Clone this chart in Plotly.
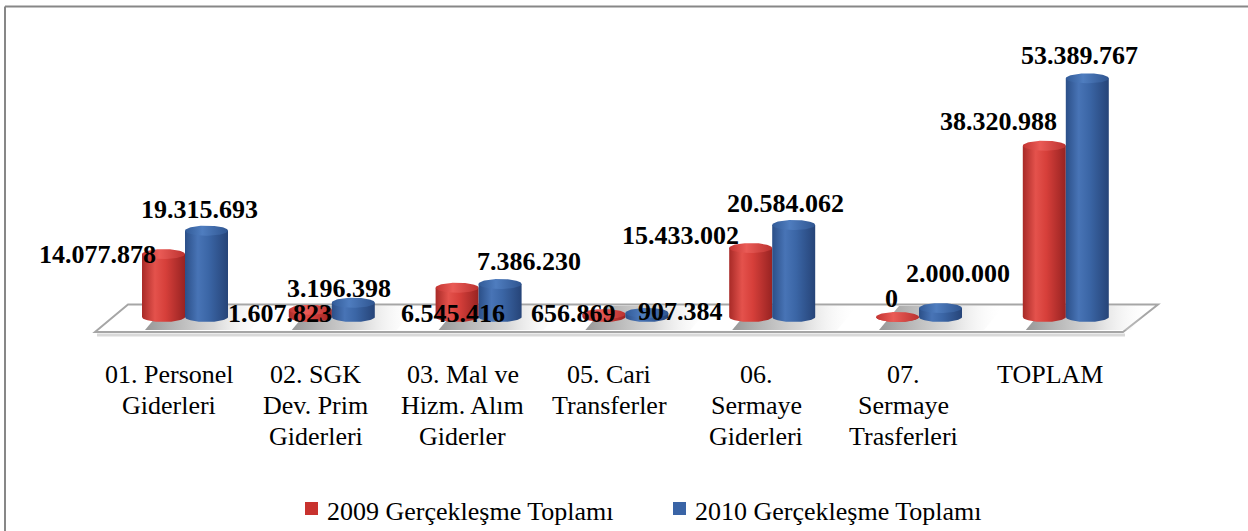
import numpy as np
import plotly.graph_objects as go

# ---- data -------------------------------------------------------------
categories = [
    "01. Personel<br>Giderleri",
    "02. SGK<br>Dev. Prim<br>Giderleri",
    "03. Mal ve<br>Hizm. Alım<br>Giderler",
    "05. Cari<br>Transferler",
    "06.<br>Sermaye<br>Giderleri",
    "07.<br>Sermaye<br>Trasferleri",
    "TOPLAM",
]
series_names = ["2009 Gerçekleşme Toplamı", "2010 Gerçekleşme Toplamı"]
values_2009 = [14077878, 1607823, 6545416, 656869, 15433002, 0, 38320988]
values_2010 = [19315693, 3196398, 7386230, 907384, 20584062, 2000000, 53389767]

# label nudges (pixels) relative to the top centre of each cylinder
label_shift_2009 = [(-66, 0), (-30, -4), (-4, -26), (-30, 1), (-70, 13), (-6, 19), (-46, 24)]
label_shift_2010 = [(-7, 21), (-14, 14), (29, 22), (34, 1), (-8, 21), (17, 35), (-8, 23)]

SERIF = "Times New Roman, Liberation Serif, Tinos, serif"

# ---- geometry ---------------------------------------------------------
W, H = 1248, 531
X0, DX = 185.0, 146.8          # pixel of first category centre, px per category
BASE, SCALE = 317.0, 4.47e-6   # pixel row of the floor line, px per unit value

x_range = [-X0 / DX, (W - X0) / DX]
y_range = [-(H - BASE) / SCALE, BASE / SCALE]

half_w = 21.5 / DX       # cylinder radius in category units
pair_off = 21.5 / DX     # offset of each cylinder from the category centre
ry = 5.0 / SCALE         # vertical half-axis of the ellipses in value units


def to_x(px):
    return (px - X0) / DX


def to_y(py):
    return (BASE - py) / SCALE


def fmt(v):
    return f"{v:,}".replace(",", ".")


RED_BODY = [[0, "#a82a27"], [0.3, "#e4524c"], [0.55, "#d63f3a"], [1, "#982322"]]
RED_CAP = [[0, "#c43532"], [0.4, "#ea5b56"], [1, "#bb3230"]]
BLUE_BODY = [[0, "#2b4f88"], [0.3, "#4874b6"], [0.55, "#3b66a6"], [1, "#264478"]]
BLUE_CAP = [[0, "#325b98"], [0.4, "#4f7dbf"], [1, "#2f5590"]]

fig = go.Figure()

# soft shadows on the floor behind every pair
for i in range(len(categories)):
    c = X0 + DX * i
    xs = [c - 20, c + 85, c + 65, c - 40, c - 20]
    ys = [306, 306, 330, 330, 306]
    fig.add_trace(go.Scatter(
        x=[to_x(v) for v in xs], y=[to_y(v) for v in ys],
        mode="lines", line=dict(width=0), fill="toself",
        fillgradient=dict(type="horizontal",
                          colorscale=[[0, "rgba(140,140,140,0.9)"],
                                      [0.55, "rgba(195,195,195,0.65)"],
                                      [1, "rgba(255,255,255,0)"]]),
        hoverinfo="skip", showlegend=False))


def cylinder(xc, v, body, cap):
    t = np.linspace(0, np.pi, 48)
    bx = list(xc - half_w * np.cos(t)) + [xc + half_w, xc - half_w, xc - half_w]
    by = list(-ry * np.sin(t)) + [v, v, 0]
    fig.add_trace(go.Scatter(
        x=bx, y=by, mode="lines", line=dict(width=0), fill="toself",
        fillgradient=dict(type="horizontal", colorscale=body),
        hoverinfo="skip", showlegend=False))
    t2 = np.linspace(0, 2 * np.pi, 96)
    fig.add_trace(go.Scatter(
        x=xc + half_w * np.cos(t2), y=v + ry * np.sin(t2),
        mode="lines", line=dict(width=0), fill="toself",
        fillgradient=dict(type="horizontal", colorscale=cap),
        hoverinfo="skip", showlegend=False))


annotations = []
for i, (a, b) in enumerate(zip(values_2009, values_2010)):
    xr_, xb_ = i - pair_off, i + pair_off
    cylinder(xr_, a, RED_BODY, RED_CAP)
    cylinder(xb_, b, BLUE_BODY, BLUE_CAP)
    for xc, v, (dx, dy) in ((xr_, a, label_shift_2009[i]), (xb_, b, label_shift_2010[i])):
        annotations.append(dict(
            x=xc, y=v, xref="x", yref="y", text=fmt(v), showarrow=False,
            xshift=dx, yshift=dy, xanchor="center", yanchor="middle",
            font=dict(family=SERIF, size=26, color="black", weight="bold")))

# category labels, one line at a time
for i, cat in enumerate(categories):
    for k, line in enumerate(cat.split("<br>")):
        annotations.append(dict(
            x=i, y=(1 - (374 + 31 * k) / H), xref="x", yref="paper", text=line,
            showarrow=False, xshift=-16, xanchor="center", yanchor="middle",
            font=dict(family=SERIF, size=26, color="black")))

# legend
legend_items = [(305, "#c8322e", series_names[0]), (673, "#3a64a6", series_names[1])]
shapes = []
for lx, col, name in legend_items:
    shapes.append(dict(type="rect", xref="paper", yref="paper",
                       x0=lx / W, x1=(lx + 13) / W, y0=1 - 515 / H, y1=1 - 502 / H,
                       fillcolor=col, line=dict(width=0)))
    annotations.append(dict(x=(lx + 20) / W, y=1 - 511 / H, xref="paper", yref="paper",
                            text=name, showarrow=False, xanchor="left", yanchor="middle",
                            font=dict(family=SERIF, size=26, color="black")))

# floor plate
floor = [(95, 332), (128, 304.5), (1158, 304.5), (1123, 332)]
path = "M " + " L ".join(f"{x / W},{1 - y / H}" for x, y in floor) + " Z"
shapes.insert(0, dict(type="path", path=path, xref="paper", yref="paper",
                      fillcolor="white", line=dict(color="#a6a6a6", width=2), layer="below"))
shapes.insert(0, dict(type="path", xref="paper", yref="paper", layer="below",
                      path=f"M {97 / W},{1 - 335 / H} L {1125 / W},{1 - 335 / H}",
                      line=dict(color="#d9d9d9", width=3)))

# outer frame
shapes.append(dict(type="line", xref="paper", yref="paper", x0=5 / W, x1=1.0,
                   y0=1 - 6.5 / H, y1=1 - 6.5 / H, line=dict(color="#878787", width=2)))
shapes.append(dict(type="line", xref="paper", yref="paper", x0=5 / W, x1=5 / W,
                   y0=1 - 6.5 / H, y1=0, line=dict(color="#878787", width=2)))

fig.update_layout(
    width=W, height=H,
    margin=dict(l=0, r=0, t=0, b=0),
    paper_bgcolor="white", plot_bgcolor="white",
    xaxis=dict(range=x_range, visible=False, fixedrange=True),
    yaxis=dict(range=y_range, visible=False, fixedrange=True),
    showlegend=False,
    shapes=shapes,
    annotations=annotations,
)

fig.write_html("out.html")
